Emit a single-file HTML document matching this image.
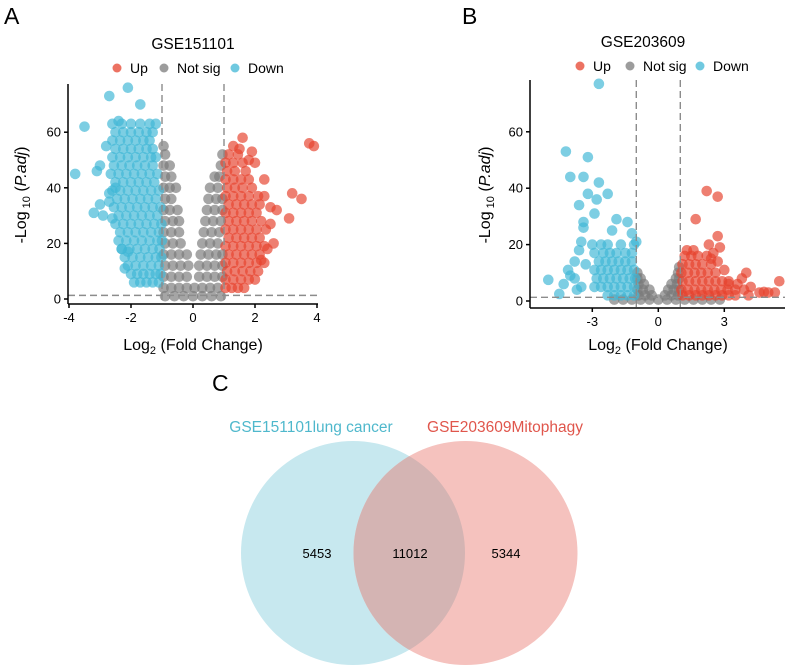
<!DOCTYPE html>
<html><head><meta charset="utf-8"><style>
body{margin:0;background:#fff}
svg{display:block;font-family:"Liberation Sans",Arial,sans-serif}
</style></head><body>
<svg id="s" width="789" height="667" viewBox="0 0 789 667">
<text x="4" y="24" font-size="23">A</text>
<text x="462" y="24" font-size="23">B</text>
<text x="212" y="391" font-size="23">C</text>
<g id="venn">
<circle cx="353" cy="553" r="112" fill="#c7e8ef"/>
<circle cx="465.5" cy="553" r="112" fill="#f5c2be"/>
<clipPath id="cl"><circle cx="353" cy="553" r="112"/></clipPath>
<circle cx="465.5" cy="553" r="112" fill="#d4b4b3" clip-path="url(#cl)"/>
<text x="311" y="432" font-size="15.5" fill="#4fb8cc" text-anchor="middle">GSE151101lung cancer</text>
<text x="505" y="432" font-size="15.5" fill="#e0564c" text-anchor="middle">GSE203609Mitophagy</text>
<text x="317" y="558" font-size="13" text-anchor="middle">5453</text>
<text x="410" y="558" font-size="13" text-anchor="middle">11012</text>
<text x="506" y="558" font-size="13" text-anchor="middle">5344</text>
</g>
</svg>
<script>
const aUp=[[1.05,4],[1.25,4],[1.45,4],[1.65,4],[1.05,7],[1.3,7],[1.55,7],[1.8,7],[2.0,7],[1.1,10],[1.35,10],[1.6,10],[1.85,10],[2.1,10],[1.05,13],[1.3,13],[1.55,13],[1.8,13],[2.05,13],[2.3,13],[1.15,16],[1.4,16],[1.65,16],[1.9,16],[2.15,16],[1.05,19],[1.3,19],[1.55,19],[1.8,19],[2.05,19],[2.3,19],[1.15,22],[1.4,22],[1.65,22],[1.9,22],[2.15,22],[1.05,25],[1.3,25],[1.55,25],[1.8,25],[2.05,25],[2.35,25],[1.15,28],[1.4,28],[1.65,28],[1.9,28],[2.2,28],[1.05,31],[1.3,31],[1.55,31],[1.8,31],[2.05,31],[1.15,34],[1.4,34],[1.65,34],[1.9,34],[2.15,34],[1.05,37],[1.3,37],[1.55,37],[1.8,37],[2.1,37],[1.1,40],[1.35,40],[1.6,40],[1.9,40],[1.05,43],[1.3,43],[1.55,43],[1.8,43],[1.1,46],[1.35,46],[1.7,46],[1.05,49],[1.3,49],[1.6,49],[1.15,52],[1.45,52],[1.6,58],[1.3,55],[1.5,54],[1.9,53],[2.0,49],[2.3,43],[2.3,37],[2.5,33],[2.5,27],[2.7,32],[3.1,29],[3.2,38],[3.5,36],[3.75,56],[3.9,55],[2.4,18],[2.6,20],[2.2,14],[1.8,50]];
const aNs=[[-0.9,1],[-0.6,1],[-0.3,1],[0,1],[0.3,1],[0.6,1],[0.9,1],[-0.95,4],[-0.7,4],[-0.45,4],[-0.2,4],[0.05,4],[0.3,4],[0.55,4],[0.8,4],[-0.95,8],[-0.7,8],[-0.45,8],[-0.2,8],[0.2,8],[0.45,8],[0.7,8],[0.95,8],[-0.9,12],[-0.65,12],[-0.4,12],[-0.15,12],[0.2,12],[0.45,12],[0.7,12],[0.95,12],[-0.95,16],[-0.7,16],[-0.45,16],[-0.2,16],[0.25,16],[0.5,16],[0.75,16],[0.95,16],[-0.9,20],[-0.65,20],[-0.4,20],[0.3,20],[0.55,20],[0.8,20],[-0.95,24],[-0.7,24],[-0.45,24],[0.35,24],[0.6,24],[0.85,24],[-0.9,28],[-0.65,28],[-0.45,28],[0.4,28],[0.65,28],[0.9,28],[-0.95,32],[-0.75,32],[-0.5,32],[0.45,32],[0.7,32],[0.95,32],[-0.9,36],[-0.7,36],[0.5,36],[0.75,36],[0.95,36],[-0.95,40],[-0.75,40],[-0.55,40],[0.55,40],[0.8,40],[-0.9,44],[-0.7,44],[0.85,44],[0.7,44],[-0.95,48],[-0.75,48],[0.9,48],[-0.9,52],[0.95,52],[-0.95,55]];
const aDown=[[-1.9,6],[-1.7,6],[-1.5,6],[-1.3,6],[-1.1,6],[-2.0,9],[-1.8,9],[-1.6,9],[-1.4,9],[-1.2,9],[-1.05,9],[-2.1,12],[-1.85,12],[-1.6,12],[-1.35,12],[-1.1,12],[-2.2,15],[-1.95,15],[-1.7,15],[-1.45,15],[-1.2,15],[-1.02,15],[-2.3,18],[-2.05,18],[-1.8,18],[-1.55,18],[-1.3,18],[-1.08,18],[-2.4,21],[-2.15,21],[-1.9,21],[-1.65,21],[-1.4,21],[-1.15,21],[-1.0,21],[-2.35,24],[-2.1,24],[-1.85,24],[-1.6,24],[-1.35,24],[-1.1,24],[-2.5,27],[-2.25,27],[-2.0,27],[-1.75,27],[-1.5,27],[-1.25,27],[-1.02,27],[-2.4,30],[-2.15,30],[-1.9,30],[-1.65,30],[-1.4,30],[-1.15,30],[-2.55,33],[-2.3,33],[-2.05,33],[-1.8,33],[-1.55,33],[-1.3,33],[-1.05,33],[-2.45,36],[-2.2,36],[-1.95,36],[-1.7,36],[-1.45,36],[-1.2,36],[-2.6,39],[-2.35,39],[-2.1,39],[-1.85,39],[-1.6,39],[-1.35,39],[-1.1,39],[-2.5,42],[-2.25,42],[-2.0,42],[-1.75,42],[-1.5,42],[-1.25,42],[-2.65,45],[-2.4,45],[-2.15,45],[-1.9,45],[-1.65,45],[-1.4,45],[-1.15,45],[-2.55,48],[-2.3,48],[-2.05,48],[-1.8,48],[-1.55,48],[-1.3,48],[-2.6,51],[-2.35,51],[-2.1,51],[-1.85,51],[-1.6,51],[-1.35,51],[-1.2,51],[-2.5,54],[-2.25,54],[-2.0,54],[-1.75,54],[-1.5,54],[-1.3,54],[-2.6,57],[-2.35,57],[-2.1,57],[-1.85,57],[-1.6,57],[-1.4,57],[-2.5,60],[-2.25,60],[-2.0,60],[-1.75,60],[-1.5,60],[-1.3,60],[-2.6,63],[-2.3,63],[-2.0,63],[-1.7,63],[-1.4,63],[-1.2,63],[-3.8,45],[-3.5,62],[-2.7,73],[-2.1,76],[-1.7,70],[-2.4,64],[-2.8,55],[-3.0,48],[-3.1,46],[-3.2,31],[-3.0,34],[-2.7,35],[-2.9,30],[-2.3,18],[-2.2,11],[-2.1,17],[-2.6,29],[-2.5,40],[-2.7,38]];
const bUp=[[1.1,2],[1.4,2],[1.7,2],[2.0,2],[2.3,2],[2.6,2],[2.9,2],[3.2,2],[3.5,2],[1.05,4],[1.35,4],[1.65,4],[1.95,4],[2.25,4],[2.55,4],[2.85,4],[3.15,4],[3.5,4],[3.9,4],[1.1,7],[1.4,7],[1.7,7],[2.0,7],[2.3,7],[2.6,7],[2.9,7],[3.2,7],[1.05,10],[1.35,10],[1.65,10],[1.95,10],[2.25,10],[2.6,10],[1.1,13],[1.4,13],[1.7,13],[2.0,13],[2.4,13],[1.2,16],[1.5,16],[1.8,16],[2.2,16],[1.3,18],[1.6,18],[2.2,39],[2.7,37],[1.7,29],[2.7,23],[2.3,20],[2.8,19],[2.5,17],[2.4,15],[2.7,14],[3.6,6],[3.8,8],[4.0,10],[4.2,5],[4.6,3],[5.0,3],[5.3,3],[5.5,7],[4.1,2],[3.2,6],[4.8,3.2],[3.0,11]];
const bNs=[[-2.0,0.5],[-1.6,0.5],[-1.2,0.5],[-0.8,0.5],[-0.4,0.5],[0,0.5],[0.4,0.5],[0.8,0.5],[1.2,0.5],[1.6,0.5],[2.0,0.5],[2.4,0.5],[2.8,0.5],[-0.9,2],[-0.6,2],[-0.3,2],[0.3,2],[0.6,2],[0.9,2],[-0.95,4],[-0.7,4],[-0.4,4],[0.45,4],[0.7,4],[0.95,4],[-0.9,6],[-0.65,6],[0.6,6],[0.85,6],[-0.95,8],[-0.8,8],[0.8,8],[0.95,8],[-0.95,10],[0.9,10],[0.95,12]];
const bDown=[[-2.3,2],[-2.0,2],[-1.7,2],[-1.4,2],[-1.1,2],[-2.9,5],[-2.6,5],[-2.3,5],[-2.0,5],[-1.7,5],[-1.4,5],[-1.1,5],[-2.8,8],[-2.5,8],[-2.2,8],[-1.9,8],[-1.6,8],[-1.3,8],[-1.05,8],[-2.9,11],[-2.6,11],[-2.3,11],[-2.0,11],[-1.7,11],[-1.4,11],[-1.1,11],[-2.7,14],[-2.4,14],[-2.1,14],[-1.8,14],[-1.5,14],[-1.2,14],[-2.9,17],[-2.5,17],[-2.2,17],[-1.9,17],[-1.5,17],[-1.2,17],[-3.0,20],[-2.6,20],[-2.3,20],[-1.7,20],[-1.1,20],[-2.7,77],[-4.2,53],[-3.2,51],[-4.0,44],[-3.4,44],[-2.7,42],[-3.2,38],[-2.3,38],[-2.8,36],[-3.6,34],[-2.9,31],[-3.4,28],[-3.4,26],[-1.9,29],[-2.1,25],[-1.4,28],[-1.2,24],[-1.0,21],[-3.5,21],[-3.6,18],[-3.8,14],[-4.1,11],[-4.0,9],[-3.8,8],[-4.3,6],[-5.0,7.5],[-4.5,2.5],[-3.7,4],[-3.3,13],[-3.5,5]];
const aXTicks=[-4,-2,0,2,4], aYTicks=[0,20,40,60];
const bXTicks=[-3,0,3], bYTicks=[0,20,40,60];
const NS='http://www.w3.org/2000/svg', svg=document.getElementById('s');
function mk(t,a,p){const e=document.createElementNS(NS,t);for(const k in a)e.setAttribute(k,a[k]);(p||svg).appendChild(e);return e;}
function panel(o){
 const g=mk('g',{});
 
 
 const X=v=>o.x0+o.kx*v, Y=v=>o.y0-o.ky*v;
 const pts=mk('g',{'fill-opacity':0.68},g);
 [[o.ns,'#7b7b7b','not-sig-point'],[o.down,'#40b7d5','down-point'],[o.up,'#e6432d','up-point']].forEach(([arr,c,n])=>{
  arr.forEach(d=>{const e=mk('circle',{cx:X(d[0]),cy:Y(d[1]),r:5.3,fill:c},pts);
   
   });
 });
 const dash={stroke:'#8c8c8c','stroke-width':1.4,'stroke-dasharray':'7,4',fill:'none'};
 [-1,1].forEach(v=>{const l=mk('line',Object.assign({x1:X(v),x2:X(v),y1:o.top,y2:o.axY},dash),g);
  
  });
 const h=mk('line',Object.assign({x1:o.axX,x2:o.right,y1:Y(1.3),y2:Y(1.3)},dash),g);
 
 
 const ax={stroke:'#000','stroke-width':1.5};
 const xa=mk('line',Object.assign({x1:o.axX,x2:o.right,y1:o.axY,y2:o.axY},ax),g);
 
 
 const ya=mk('line',Object.assign({x1:o.axX,x2:o.axX,y1:o.top,y2:o.axY},ax),g);
 
 
 o.xt.forEach(v=>{mk('line',Object.assign({x1:X(v),x2:X(v),y1:o.axY,y2:o.axY+4},ax),g);
  const t=mk('text',{x:X(v),y:o.axY+18,'font-size':13,'text-anchor':'middle'},g);t.textContent=v;
  
  });
 o.yt.forEach(v=>{mk('line',Object.assign({x1:o.axX-4,x2:o.axX,y1:Y(v),y2:Y(v)},ax),g);
  const t=mk('text',{x:o.axX-7,y:Y(v)+4.5,'font-size':13,'text-anchor':'end'},g);t.textContent=v;
  
  });
 const xl=mk('text',{x:o.xlx,y:350,'font-size':16,'text-anchor':'middle'},g);
 xl.innerHTML='Log<tspan font-size="11" dy="4">2</tspan><tspan dy="-4"> (Fold Change)</tspan>';
 
 
 const yl=mk('text',{transform:`translate(${o.ylx},195) rotate(-90)`,'font-size':16,'text-anchor':'middle'},g);
 yl.innerHTML='-Log<tspan font-size="11" dy="4"> 10</tspan><tspan dy="-4"> (</tspan><tspan font-style="italic">P.adj</tspan>)';
 
 
 const ti=mk('text',{x:o.tx,y:o.ty,'font-size':15.5,'text-anchor':'middle'},g);ti.textContent=o.title;
 
 
 [['Up','#e6432d'],['Not sig','#7b7b7b'],['Down','#40b7d5']].forEach((d,i)=>{
  const lg=mk('g',{},g);
  
  
  mk('circle',{cx:o.lx[i],cy:o.ly,r:4.5,fill:d[1],'fill-opacity':0.75},lg);
  const t=mk('text',{x:o.lx[i]+13,y:o.ly+5,'font-size':14},lg);t.textContent=d[0];
 });
}
panel({name:'volcano-gse151101',up:aUp,ns:aNs,down:aDown,x0:193,kx:31,y0:299,ky:2.78,top:84,axY:304,axX:68,right:318,xt:aXTicks,yt:aYTicks,xlx:193,ylx:26,tx:193,ty:49,title:'GSE151101',lx:[117,164,235],ly:68});
panel({name:'volcano-gse203609',up:bUp,ns:bNs,down:bDown,x0:658.3,kx:22,y0:301,ky:2.82,top:80,axY:308,axX:530,right:785,xt:bXTicks,yt:bYTicks,xlx:658,ylx:490,tx:643,ty:47,title:'GSE203609',lx:[580,630,700],ly:66});
svg.appendChild(document.getElementById('venn'));
</script>
</body></html>
